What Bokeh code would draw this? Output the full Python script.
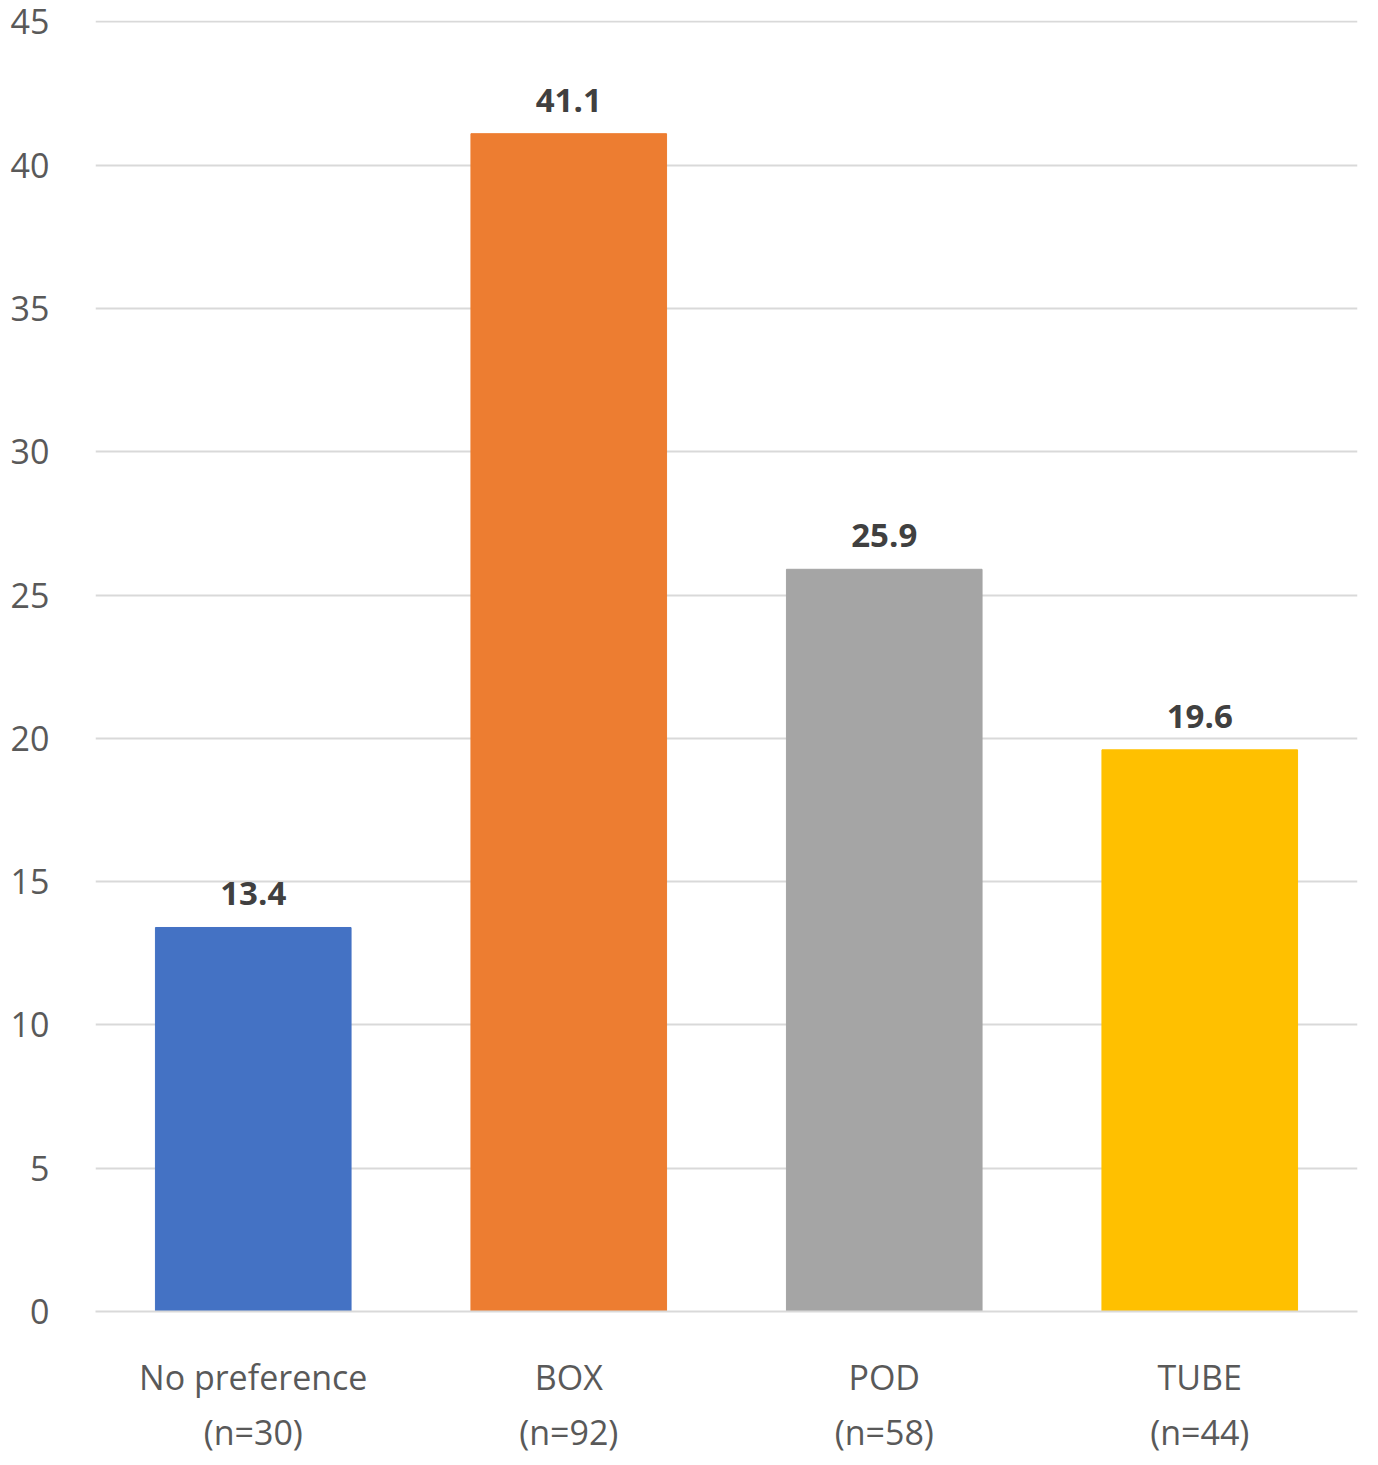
from bokeh.plotting import figure
from bokeh.models import ColumnDataSource, Range1d, FactorRange, SingleIntervalTicker, LabelSet
from bokeh.core.properties import value
from bokeh.embed import file_html
from bokeh.resources import INLINE

categories = ["No preference\n(n=30)", "BOX\n(n=92)", "POD\n(n=58)", "TUBE\n(n=44)"]
values = [13.4, 41.1, 25.9, 19.6]
colors = ["#4472C4", "#ED7D31", "#A5A5A5", "#FFC000"]
labels = ["13.4", "41.1", "25.9", "19.6"]

src = ColumnDataSource(dict(x=categories, top=values, color=colors, label=labels))

p = figure(x_range=FactorRange(*categories, range_padding=0), y_range=Range1d(0, 45.05),
           width=1370, height=1457, output_backend="svg", toolbar_location=None,
           min_border_left=95, min_border_right=13, min_border_top=20, min_border_bottom=140)
p.x_range.factor_padding = 0
p.vbar(x="x", top="top", width=0.62, color="color", source=src)
p.add_layout(LabelSet(x="x", y="top", text="label", source=src, text_align="center",
                      y_offset=22, text_font=value("Open Sans"), text_font_size="33px",
                      text_font_style="bold", text_color="#404040"))

p.outline_line_color = None
p.xgrid.grid_line_color = None
p.ygrid.grid_line_color = "#D9D9D9"
p.ygrid.grid_line_width = 2
p.yaxis.ticker = SingleIntervalTicker(interval=5)
p.yaxis.axis_line_color = None
p.yaxis.major_tick_line_color = None
p.yaxis.minor_tick_line_color = None
p.yaxis.major_label_standoff = 40
p.xaxis.axis_line_color = "#D9D9D9"
p.xaxis.axis_line_width = 2
p.xaxis.major_tick_line_color = None
p.xaxis.major_label_standoff = 36
for ax in (p.xaxis, p.yaxis):
    ax.major_label_text_font = "Open Sans"
    ax.major_label_text_font_size = "34px"
    ax.major_label_text_color = "#595959"
p.yaxis.major_label_text_align = "left"

open("out.html", "w").write(file_html(p, INLINE))
